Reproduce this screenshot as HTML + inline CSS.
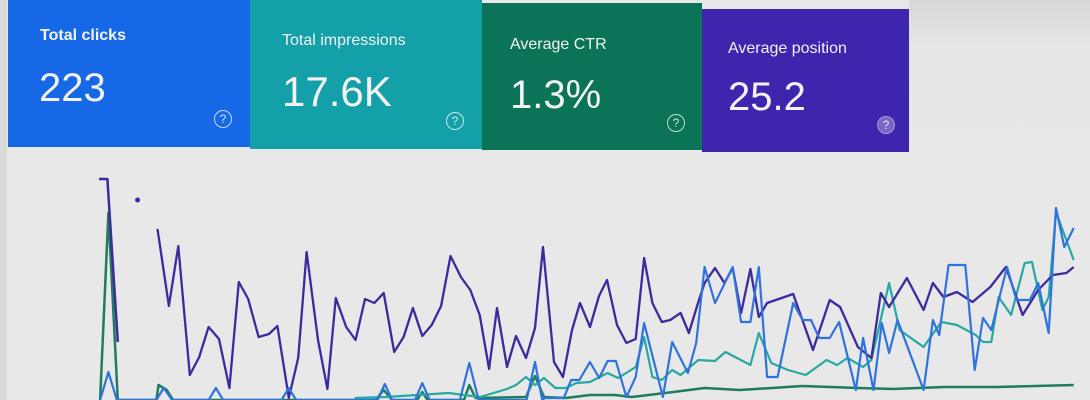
<!DOCTYPE html>
<html><head><meta charset="utf-8"><style>
html,body{margin:0;padding:0;width:1090px;height:400px;overflow:hidden;background:#e8e8e8;font-family:"Liberation Sans",sans-serif;}
.card{position:absolute;color:#f2f2f2;}
.lbl{position:absolute;font-size:16px;white-space:nowrap;}
.val{position:absolute;font-size:40px;white-space:nowrap;}
.help{position:absolute;width:16px;height:16px;border:1.5px solid rgba(255,255,255,0.75);border-radius:50%;font-size:12px;line-height:16px;text-align:center;color:rgba(255,255,255,0.8);}
</style></head><body>
<div style="position:absolute;left:0;top:0;width:7px;height:400px;background:#d9d9d9"></div>
<div style="position:absolute;left:909px;top:0;width:181px;height:160px;background:linear-gradient(#d8d8d8,#e6e6e6 30%,#e8e8e8)"></div>

<div class="card" style="left:8px;top:0;width:242px;height:147px;background:#1668e6">
  <div class="lbl" style="left:32px;top:27px;font-weight:bold">Total clicks</div>
  <div class="val" style="left:31px;top:66px">223</div>
  <div class="help" style="left:206px;top:110px">?</div>
</div>
<div class="card" style="left:250px;top:0;width:232px;height:149px;background:#14a0a9">
  <div class="lbl" style="left:32px;top:32px">Total impressions</div>
  <div class="val" style="left:32px;top:68px;font-size:42px">17.6K</div>
  <div class="help" style="left:196px;top:112px">?</div>
</div>
<div class="card" style="left:482px;top:3px;width:220px;height:147px;background:#0b7458">
  <div class="lbl" style="left:28px;top:33px">Average CTR</div>
  <div class="val" style="left:28px;top:70px">1.3%</div>
  <div class="help" style="left:185px;top:111px">?</div>
</div>
<div class="card" style="left:702px;top:9px;width:207px;height:143px;background:#3f24ad">
  <div class="lbl" style="left:26px;top:31px">Average position</div>
  <div class="val" style="left:26px;top:66px">25.2</div>
  <div class="help" style="left:175px;top:107px;background:rgba(255,255,255,0.3);border-color:rgba(255,255,255,0.3)">?</div>
</div>

<svg id="chart" width="1090" height="400" style="position:absolute;left:0;top:0"></svg>
<script>
const purpleA_days=[0.31,1.14,2.18];
const purpleA_vals=[110.5,110.5,29];
const purpleDot_days=[4.16];
const purpleDot_vals=[100];
const purple_days=[6.15,7.29,8.23,9.38,10.32,11.26,12.3,13.34,14.28,15.22,16.26,17.3,18.14,19.28,20.22,21.06,22.2,23.14,23.98,25.02,25.96,26.9,27.84,28.77,29.82,30.76,31.69,32.63,33.57,34.51,35.45,36.49,37.43,38.37,39.31,40.1,41.1,42,43,43.9,44.7,45.8,46.7,47.6,48.4,49.4,50.3,51.1,52.1,53.04,53.97,54.81,55.64,56.58,57.42,58.46,59.29,60.23,60.86,61.9,62.84,63.67,64.51,65.44,66.28,67.11,68.57,69.72,71.7,73.37,74.41,76.19,77.54,78.48,79.31,81.09,82.76,83.69,84.74,86.09,87.66,89.43,90.99,92.66,94.22,95.68,97.04,97.77];
const purple_vals=[85.5,47,77,12.5,21.5,36.5,30.5,6,59,50.5,31.5,33,37,1,21,74,30,5.5,51,36.5,30,50.5,48.5,53.5,24,31.5,46,32,37.5,47,72,61.5,55,42.5,15.5,46,16.5,32,21,36,76.5,19,11.5,35,48.5,36.5,52,60,37.5,28.5,30.5,71,48.5,39,40,43.5,33.5,49,58.5,66,58.5,66,43.5,65.5,41.5,48.5,51,53,25,50,46.5,26.5,21,53.5,46.5,61,45,58.5,51.5,54,49,56.5,66.5,42.5,55,62.5,63.5,66.5];
const blue_days=[0.41,1.24,2.08,6.04,6.77,7.6,11.26,11.99,12.72,18.55,19.28,20.01,28.15,28.88,29.61,31.9,32.63,33.36,36.39,37.33,38.26,43.06,43.9,44.62,44.9,46.78,47.51,48.34,49.39,50.32,51.16,51.99,53.04,53.97,54.81,56.69,57.62,59.19,60.02,60.86,61.9,63.67,64.51,65.44,66.28,67.11,68.16,69.72,70.66,71.49,72.33,73.37,74.31,75.98,76.71,77.75,78.58,79.31,80.15,82.76,83.69,84.32,85.26,86.93,87.87,88.7,89.53,91.1,92.04,93.39,94.22,95.27,96,96.83,97.77];
const blue_vals=[0,14,0,0,6,0,0,6,0,0,6,0,0,8,0,0,8.5,0,0,18.5,0,0,19,0,1,1,10,10,19,11,19.5,19.5,1.5,11.5,38.5,1.5,29,13.5,28.5,66.5,48.5,66.5,39,39,66.5,11.5,11.5,48.5,40,40,31,31,39,5,31,5,38.5,23.5,40,5,40,32.5,67.5,67.5,15,41,35,66.5,50,50,58.5,33.5,96,76.5,86];
const teal_days=[25.85,28.98,32.11,35.24,38.4,41.1,42,43,43.9,44.8,45.94,46.99,48.03,49.39,51.16,52.2,53.97,54.81,55.64,56.58,57.62,58.46,60.23,61.9,62.94,65.44,66.28,67.53,69.2,70.97,73.06,74.1,75.15,76.71,77.54,79.31,80.36,82.76,84.53,86.09,87.97,88.7,89.53,90.26,91.51,92.87,93.6,94.64,95.27,96,97.77];
const teal_vals=[1,1.5,2.5,3.5,1.5,5.5,7.5,11.5,7.5,11,6,6,8.5,9,13.5,11,16.5,31.5,11.5,10,15,12.5,20,19.5,24,17.5,33.5,18.5,15,12.5,20,17.5,21,16.5,20,58.5,35,26.5,39,37.5,32.5,29,29,51.5,42.5,68.5,69,45,51.5,94,70];
const green_days=[0.41,1.24,2.18,6.04,6.25,7.08,7.71,27.94,28.77,29.61,32.11,32.63,33.15,36.8,37.33,37.95,43,43.9,44.8,46.99,49.39,51.89,53.56,57.73,60.86,64.4,70.66,76.19,79.63,84.84,90.05,97.77];
const green_vals=[0,93.5,0,0,7.5,5,0,0,5,0,0,4,0,0,7.5,1,1.5,12,1.5,1,2.5,2.5,1.5,4,6,5,7,6,5.5,6.5,6.5,7.5];

const xS=d=>96+d*10;
const yS=v=>400-v*2;
const svg=document.getElementById('chart');
const NS='http://www.w3.org/2000/svg';
function line(days,vals,color,name,w){
  const p=document.createElementNS(NS,'polyline');
  p.setAttribute('points',days.map((d,i)=>xS(d).toFixed(1)+','+yS(vals[i]).toFixed(1)).join(' '));
  p.setAttribute('fill','none');p.setAttribute('stroke',color);p.setAttribute('stroke-width',w);
  p.setAttribute('stroke-linejoin','round');
  
  
  svg.appendChild(p);
}
line(green_days,green_vals,'#1f7d5c','ctr-line',2.5);
line(teal_days,teal_vals,'#27a8a2','impressions-line',2.2);
line(purpleA_days,purpleA_vals,'#3e2a9c','position-line-start',2.5);
line(purple_days,purple_vals,'#3e2a9c','position-line',2.3);
line(blue_days,blue_vals,'#2f73dc','clicks-line',2.2);
const c=document.createElementNS(NS,'circle');
c.setAttribute('cx',xS(purpleDot_days[0]));c.setAttribute('cy',yS(purpleDot_vals[0]));c.setAttribute('r',2.5);c.setAttribute('fill','#3e2a9c');


svg.appendChild(c);
</script>
</body></html>
